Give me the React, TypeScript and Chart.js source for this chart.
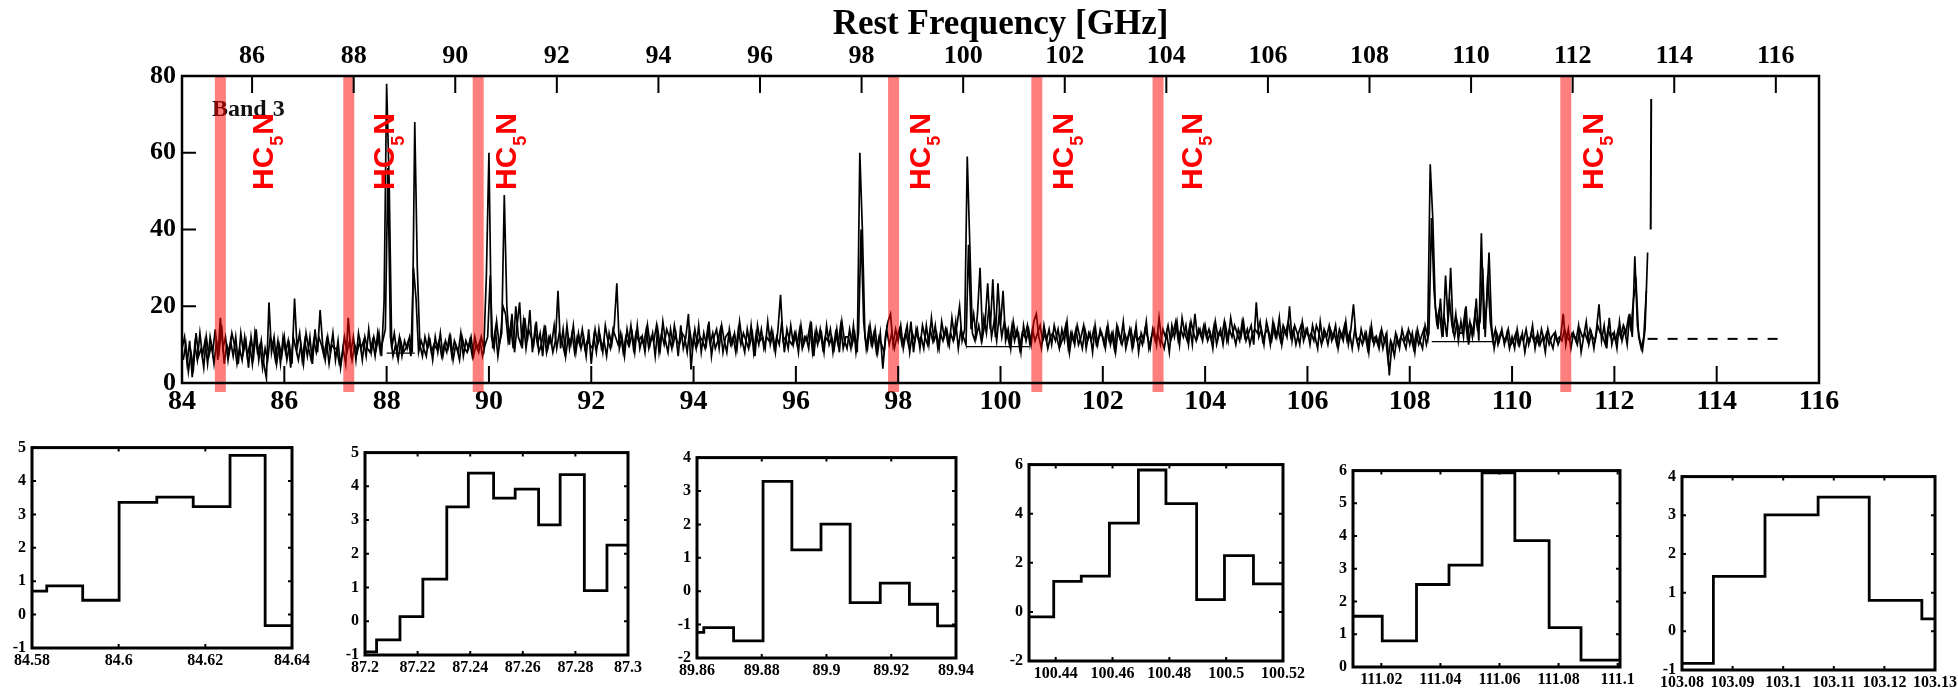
import React, { useEffect, useRef } from "react";
import { Chart, registerables } from "chart.js";
Chart.register(...registerables);

// ---------------- DATA ----------------
// main spectrum, first spectral trace: channel grid start / spacing (GHz)
const specStartGHz = 84.0;
const specStepGHz = 0.05;
// flux values per channel, 20 channels per GHz
const spectrumValues = [
  // 84
  9, 12, 5, 11, 1.5, 10, 6, 13, 7, 11, 5, 12, 8, 14, 6, 17, 9, 12, 6, 11,
  // 85
  7, 12, 5, 13, 8, 11, 4, 12, 7, 14, 6, 11, 5, 1.2, 21, 8, 12, 5, 10, 7,
  // 86
  12, 6, 10, 5, 22, 9, 13, 6, 11, 7, 12, 5, 14, 8, 19, 10, 6, 12, 8, 13,
  // 87
  6, 11, 4, 9, 5, 17, 8, 12, 6, 13, 9, 11, 7, 14, 8, 12, 9, 13, 7, 21,
  // 88
  78, 52, 9, 13, 8, 12, 7, 11, 9, 12, 8, 68, 30, 10, 7, 12, 9, 11, 6, 12,
  // 89
  8, 13, 7, 11, 9, 12, 6, 10, 8, 13, 7, 11, 9, 12, 7, 10, 8, 12, 9, 28,
  // 90
  60, 12, 9, 16, 10, 13, 49, 20, 10, 18, 8, 15, 21, 9, 17, 11, 19, 8, 14, 10,
  // 91
  13, 7, 15, 9, 12, 8, 11, 24, 9, 14, 7, 12, 10, 15, 8, 13, 9, 12, 7, 14,
  // 92
  5, 12, 8, 14, 9, 11, 7, 13, 10, 15, 26, 9, 12, 7, 14, 10, 13, 8, 15, 9,
  // 93
  12, 8, 15, 10, 13, 7, 14, 9, 16, 11, 8, 14, 10, 13, 7, 15, 9, 12, 18, 3.5,
  // 94
  12, 9, 15, 8, 13, 10, 16, 7, 12, 14, 9, 15, 11, 8, 14, 10, 13, 9, 16, 11,
  // 95
  8, 14, 10, 13, 7, 15, 11, 12, 9, 16, 10, 13, 8, 14, 23, 11, 12, 9, 15, 10,
  // 96
  13, 8, 15, 10, 12, 9, 16, 7, 14, 11, 13, 8, 15, 10, 12, 9, 14, 8, 16, 11,
  // 97
  9, 14, 10, 13, 8, 60, 40, 12, 9, 15, 10, 14, 8, 13, 3.7, 12, 16, 18, 10, 14,
  // 98
  11, 15, 9, 13, 10, 16, 8, 14, 11, 12, 9, 15, 10, 17, 11, 13, 9, 16, 12, 14,
  // 99
  10, 17, 12, 15, 20, 11, 14, 59, 36, 13, 11, 18, 30, 12, 16, 26, 14, 27, 12, 26,
  // 100
  15, 24, 11, 14, 9, 16, 12, 13, 8, 15, 11, 14, 10, 16, 18, 12, 9, 15, 11, 14,
  // 101
  10, 15, 12, 9, 14, 11, 16, 8, 13, 10, 15, 12, 9, 14, 11, 13, 8, 15, 10, 14,
  // 102
  12, 9, 15, 10, 13, 8, 14, 11, 16, 9, 12, 14, 10, 15, 8, 13, 11, 16, 9, 12,
  // 103
  14, 10, 17, 11, 9, 13, 8, 15, 12, 16, 10, 17, 13, 11, 15, 10, 18, 12, 14, 11,
  // 104
  15, 11, 13, 9, 16, 12, 14, 10, 15, 11, 17, 13, 10, 14, 12, 16, 11, 13, 15, 10,
  // 105
  21, 12, 14, 10, 16, 13, 11, 15, 12, 17, 10, 14, 12, 20, 11, 15, 13, 10, 16, 12,
  // 106
  14, 10, 15, 12, 9, 16, 11, 13, 10, 14, 12, 15, 9, 13, 11, 16, 10, 14, 20.5, 12,
  // 107
  9, 14, 11, 13, 8, 15, 10, 12, 9, 14, 11, 13, 2, 10, 7, 12, 9, 14, 11, 13,
  // 108
  10, 13, 8, 14, 11, 9, 15, 12, 57, 43, 20, 14, 22, 12, 28, 16, 30, 13, 18, 11,
  // 109
  16, 12, 20, 10, 15, 13, 22, 11, 39, 14, 20, 34, 15, 9, 13, 11, 14, 10, 13, 9,
  // 110
  12, 9, 14, 10, 13, 8, 12, 11, 15, 9, 13, 10, 12, 8, 14, 11, 9, 13, 10, 12,
  // 111
  18, 10, 14, 9, 13, 11, 15, 8, 12, 16, 10, 13, 9, 14, 20.5, 11, 15, 9, 17, 10,
  // 112
  13, 9, 16, 11, 14, 10, 18, 12, 33, 15, 11, 8.5, 14, 34,
];
// second, overlapping spectral trace (offset half a channel)
const spec2StartGHz = 84.025;
const spectrum2Values = [
  // 84
  6, 10, 3, 8, 4, 13, 7, 9, 4, 12, 7, 10, 5, 11, 8, 15, 5, 10, 8, 13,
  // 85
  10, 5, 9, 6, 12, 7, 10, 5, 13, 8, 10, 4, 9, 6, 12, 10, 6, 11, 5, 12,
  // 86
  8, 11, 4, 12, 9, 6, 10, 5, 13, 9, 6, 11, 8, 12, 10, 7, 11, 5, 10, 9,
  // 87
  9, 5, 7, 12, 8, 11, 6, 10, 8, 11, 6, 12, 9, 8, 11, 7, 13, 8, 11, 14,
  // 88
  56, 12, 7, 10, 6, 11, 8, 9, 11, 7, 30, 22, 8, 11, 9, 7, 12, 8, 10, 9,
  // 89
  11, 7, 10, 8, 12, 7, 11, 9, 6, 12, 9, 8, 11, 7, 12, 9, 11, 7, 10, 12,
  // 90
  28, 9, 14, 7, 12, 20, 18, 11, 15, 9, 20, 12, 10, 16, 9, 14, 12, 10, 16, 8,
  // 91
  10, 14, 8, 12, 10, 15, 9, 13, 11, 8, 15, 9, 13, 8, 12, 10, 14, 9, 11, 10,
  // 92
  9, 14, 10, 12, 8, 15, 11, 9, 14, 12, 10, 13, 8, 12, 10, 15, 9, 13, 11, 12,
  // 93
  10, 14, 9, 12, 11, 15, 8, 13, 10, 14, 12, 9, 15, 11, 10, 13, 12, 8, 14, 9,
  // 94
  14, 10, 12, 11, 9, 14, 10, 13, 9, 11, 14, 8, 12, 13, 10, 12, 8, 14, 10, 13,
  // 95
  11, 9, 15, 8, 13, 10, 14, 9, 12, 11, 14, 9, 12, 10, 16, 8, 14, 11, 10, 13,
  // 96
  10, 14, 9, 12, 11, 15, 8, 13, 10, 14, 9, 12, 11, 14, 8, 13, 10, 15, 9, 12,
  // 97
  12, 9, 15, 8, 13, 40, 16, 9, 14, 10, 13, 8, 12, 10, 8, 14, 10, 13, 9, 12,
  // 98
  14, 10, 12, 15, 8, 13, 11, 14, 9, 15, 12, 10, 14, 11, 15, 9, 13, 11, 14, 10,
  // 99
  13, 11, 16, 9, 14, 12, 10, 36, 14, 18, 12, 15, 11, 17, 13, 20, 12, 16, 11, 18,
  // 100
  12, 16, 13, 10, 15, 11, 14, 9, 13, 12, 15, 10, 14, 11, 13, 15, 11, 13, 9, 12,
  // 101
  13, 11, 14, 10, 12, 15, 9, 13, 11, 14, 10, 12, 15, 9, 13, 11, 14, 10, 12, 13,
  // 102
  10, 14, 11, 13, 9, 15, 12, 10, 13, 11, 14, 9, 13, 11, 12, 10, 14, 12, 9, 14,
  // 103
  11, 13, 10, 14, 12, 15, 11, 13, 16, 11, 14, 12, 15, 10, 16, 13, 11, 14, 12, 15,
  // 104
  12, 14, 11, 15, 10, 13, 12, 16, 11, 14, 12, 15, 13, 11, 16, 12, 14, 10, 13, 14,
  // 105
  13, 16, 11, 13, 14, 10, 16, 12, 14, 11, 15, 13, 16, 12, 14, 10, 13, 15, 11, 14,
  // 106
  12, 13, 11, 15, 13, 10, 14, 12, 15, 11, 13, 10, 14, 12, 15, 11, 13, 9, 14, 11,
  // 107
  12, 10, 13, 9, 14, 11, 12, 10, 13, 9, 12, 6, 11, 9, 13, 10, 12, 11, 9, 14,
  // 108
  12, 9, 13, 10, 12, 14, 10, 13, 43, 24, 16, 19, 13, 17, 12, 22, 15, 12, 16, 13,
  // 109
  13, 18, 12, 16, 12, 18, 14, 16, 30, 12, 28, 16, 11, 14, 10, 13, 12, 11, 14, 10,
  // 110
  11, 13, 10, 12, 11, 14, 10, 13, 11, 12, 10, 14, 11, 13, 10, 12, 13, 11, 12, 11,
  // 111
  14, 12, 11, 13, 12, 10, 14, 12, 13, 11, 14, 12, 11, 15, 13, 12, 10, 14, 12, 13,
  // 112
  11, 14, 12, 15, 13, 17, 14, 22, 26, 12, 9, 12, 24,
];
// isolated strong line at the band edge
const tailGHz = [112.71, 112.72];
const tailValues = [40, 74];
// flat fit-baseline segments under bright lines
const fitStartGHz = [88.0, 99.33, 108.43];
const fitEndGHz = [88.55, 100.56, 109.62];
const fitLevel = [7.8, 9.5, 10.8];
// continuum level beyond the observed range
const contGHz = [112.65, 115.35];
const contValues = [11.5, 11.5];
const contEndGHz = [116.05, 116.35];
const contEndValues = [11.8, 11.8];
// HC5N marker bands and labels
const bandGHz = [84.75, 87.26, 89.79, 97.91, 100.71, 103.08, 111.05];
const labelGHz = [85.78, 88.14, 90.53, 98.62, 101.42, 103.94, 111.78];
const labelStartValue = 50.3;

// zoom-in panels: bin edges, bin values, ranges and ticks
const p1Edges = [84.58, 84.5834, 84.5917, 84.6001, 84.6088, 84.6172, 84.6257, 84.6338, 84.64];
const p1Values = [0.7, 0.86, 0.43, 3.36, 3.52, 3.23, 4.77, -0.33];
const p1XTicks = [84.58, 84.6, 84.62, 84.64];
const p1YTicks = [-1, 0, 1, 2, 3, 4, 5];

const p2Edges = [87.2, 87.2044, 87.2133, 87.222, 87.2311, 87.2393, 87.2489, 87.2571, 87.266, 87.2742, 87.2834, 87.292, 87.3];
const p2Values = [-0.91, -0.55, 0.14, 1.25, 3.39, 4.39, 3.65, 3.92, 2.86, 4.35, 0.91, 2.26];
const p2XTicks = [87.2, 87.22, 87.24, 87.26, 87.28, 87.3];
const p2YTicks = [-1, 0, 1, 2, 3, 4, 5];

const p3Edges = [89.86, 89.8621, 89.8713, 89.8804, 89.8893, 89.8983, 89.9073, 89.9166, 89.9256, 89.9343, 89.94];
const p3Values = [-1.23, -1.09, -1.49, 3.29, 1.24, 2.01, -0.34, 0.24, -0.39, -1.04];
const p3XTicks = [89.86, 89.88, 89.9, 89.92, 89.94];
const p3YTicks = [-2, -1, 0, 1, 2, 3, 4];

const p4Edges = [100.4306, 100.4393, 100.449, 100.4589, 100.4691, 100.4788, 100.4896, 100.4994, 100.5096, 100.52];
const p4Values = [-0.2, 1.24, 1.46, 3.62, 5.78, 4.41, 0.5, 2.29, 1.14];
const p4XTicks = [100.44, 100.46, 100.48, 100.5, 100.52];
const p4YTicks = [-2, 0, 2, 4, 6];

const p5Edges = [111.0104, 111.0203, 111.0319, 111.0429, 111.0541, 111.0652, 111.0768, 111.0876, 111.1008];
const p5Values = [1.55, 0.8, 2.52, 3.11, 5.93, 3.86, 1.2, 0.21];
const p5XTicks = [111.02, 111.04, 111.06, 111.08, 111.1];
const p5YTicks = [0, 1, 2, 3, 4, 5, 6];

const p6Edges = [103.08, 103.0862, 103.0964, 103.1069, 103.117, 103.1274, 103.13];
const p6Values = [-0.83, 1.42, 3.01, 3.47, 0.8, 0.32];
const p6XTicks = [103.08, 103.09, 103.1, 103.11, 103.12, 103.13];
const p6YTicks = [-1, 0, 1, 2, 3, 4];

// ---------------- STYLE / LAYOUT ----------------
const SERIF = '"Liberation Serif", "Times New Roman", serif';
const SANS = '"Liberation Sans", Arial, sans-serif';

const panels = [
  { edges: p1Edges, values: p1Values, xt: p1XTicks, yt: p1YTicks, frame: [32, 442, 292, 648] },
  { edges: p2Edges, values: p2Values, xt: p2XTicks, yt: p2YTicks, frame: [365, 447, 628, 655] },
  { edges: p3Edges, values: p3Values, xt: p3XTicks, yt: p3YTicks, frame: [697, 452, 956, 658] },
  { edges: p4Edges, values: p4Values, xt: p4XTicks, yt: p4YTicks, frame: [1029, 459, 1283, 661] },
  { edges: p5Edges, values: p5Values, xt: p5XTicks, yt: p5YTicks, frame: [1353, 465, 1620, 667] },
  { edges: p6Edges, values: p6Values, xt: p6XTicks, yt: p6YTicks, frame: [1682, 471, 1935, 670] },
];

const mainDecor = {
  id: "mainDecor",
  beforeDatasetsDraw(chart: any) {
    const { ctx, chartArea: a } = chart;
    ctx.save();
    ctx.font = `bold 24px ${SERIF}`;
    ctx.fillStyle = "#111";
    ctx.textBaseline = "alphabetic";
    ctx.textAlign = "left";
    ctx.fillText("Band 3", a.left + 30, a.top + 40);
    ctx.restore();
  },
  afterDatasetsDraw(chart: any) {
    const { ctx, chartArea: a, scales } = chart;
    const x = scales.x, xt = scales.xTop, y = scales.y;
    ctx.save();
    // bands
    ctx.fillStyle = "rgba(255,0,0,0.5)";
    bandGHz.forEach((f) => {
      const p = x.getPixelForValue(f);
      ctx.fillRect(p - 5.5, a.top, 11, a.bottom - a.top + 9);
    });
    // frame
    ctx.strokeStyle = "#000";
    ctx.lineWidth = 2.5;
    ctx.strokeRect(a.left, a.top, a.right - a.left, a.bottom - a.top);
    // inward ticks
    ctx.lineWidth = 2;
    ctx.beginPath();
    x.ticks.forEach((t: any) => {
      const p = x.getPixelForValue(t.value);
      ctx.moveTo(p, a.bottom);
      ctx.lineTo(p, a.bottom - 17);
    });
    xt.ticks.forEach((t: any) => {
      const p = xt.getPixelForValue(t.value);
      ctx.moveTo(p, a.top);
      ctx.lineTo(p, a.top + 17);
    });
    y.ticks.forEach((t: any) => {
      const p = y.getPixelForValue(t.value);
      ctx.moveTo(a.left, p);
      ctx.lineTo(a.left + 14, p);
    });
    ctx.stroke();
    // HC5N labels
    labelGHz.forEach((f) => {
      const px = x.getPixelForValue(f);
      const py = y.getPixelForValue(labelStartValue);
      ctx.save();
      ctx.translate(px, py);
      ctx.rotate(-Math.PI / 2);
      ctx.fillStyle = "#ff0000";
      ctx.textBaseline = "alphabetic";
      ctx.textAlign = "left";
      ctx.font = `bold 30px ${SANS}`;
      ctx.fillText("HC", 0, 0);
      const w1 = ctx.measureText("HC").width;
      ctx.font = `bold 18px ${SANS}`;
      ctx.fillText("5", w1 + 1, 10);
      const w2 = ctx.measureText("5").width;
      ctx.font = `bold 30px ${SANS}`;
      ctx.fillText("N", w1 + w2 + 2, 0);
      ctx.restore();
    });
    ctx.restore();
  },
};

const panelDecor = {
  id: "panelDecor",
  afterDatasetsDraw(chart: any) {
    const { ctx, chartArea: a, scales } = chart;
    const x = scales.x, y = scales.y;
    ctx.save();
    ctx.strokeStyle = "#000";
    ctx.lineWidth = 3;
    ctx.strokeRect(a.left, a.top, a.right - a.left, a.bottom - a.top);
    ctx.lineWidth = 2;
    ctx.beginPath();
    x.ticks.forEach((t: any) => {
      const p = x.getPixelForValue(t.value);
      ctx.moveTo(p, a.bottom);
      ctx.lineTo(p, a.bottom - 4);
      ctx.moveTo(p, a.top);
      ctx.lineTo(p, a.top + 4);
    });
    y.ticks.forEach((t: any) => {
      const p = y.getPixelForValue(t.value);
      ctx.moveTo(a.left, p);
      ctx.lineTo(a.left + 4, p);
      ctx.moveTo(a.right, p);
      ctx.lineTo(a.right - 4, p);
    });
    ctx.stroke();
    ctx.restore();
  },
};

function SpectrumChart() {
  const ref = useRef<HTMLCanvasElement>(null);
  useEffect(() => {
    const spec = spectrumValues.map((v, i) => ({ x: +(specStartGHz + i * specStepGHz).toFixed(3), y: v }));
    const spec2 = spectrum2Values.map((v, i) => ({ x: +(spec2StartGHz + i * specStepGHz).toFixed(3), y: v }));
    const tail = tailGHz.map((f, i) => ({ x: f, y: tailValues[i] }));
    const fit: any[] = [];
    fitStartGHz.forEach((f, i) => {
      fit.push({ x: f, y: fitLevel[i] }, { x: fitEndGHz[i], y: fitLevel[i] }, { x: fitEndGHz[i] + 0.01, y: null });
    });
    const cont = contGHz.map((f, i) => ({ x: f, y: contValues[i] }));
    const contEnd = contEndGHz.map((f, i) => ({ x: f, y: contEndValues[i] }));
    const base = { pointRadius: 0, borderColor: "#000", tension: 0, fill: false, xAxisID: "x", yAxisID: "y" };
    const chart = new Chart(ref.current as HTMLCanvasElement, {
      type: "line",
      data: {
        datasets: [
          { ...base, data: spec, borderWidth: 1.7 },
          { ...base, data: spec2, borderWidth: 1.7 },
          { ...base, data: tail, borderWidth: 2 },
          { ...base, data: fit, borderWidth: 1.2, spanGaps: false },
          { ...base, data: cont, borderWidth: 2, borderDash: [10, 10] },
          { ...base, data: contEnd, borderWidth: 2 },
        ] as any,
      },
      options: {
        animation: false,
        responsive: false,
        events: [],
        layout: { padding: { left: 0, top: 0, right: 139, bottom: 0 } },
        plugins: { legend: { display: false }, tooltip: { enabled: false } },
        scales: {
          x: {
            type: "linear",
            position: "bottom",
            min: 84,
            max: 116,
            ticks: { stepSize: 2, autoSkip: false, maxRotation: 0, color: "#000", padding: 2, font: { family: SERIF, size: 28, weight: "bold" } },
            grid: { display: false, drawTicks: false },
            border: { display: false },
            afterFit: (s: any) => { s.height = 37; },
          },
          xTop: {
            type: "linear",
            position: "top",
            min: 84.62,
            max: 116.85,
            ticks: { stepSize: 2, includeBounds: false, autoSkip: false, maxRotation: 0, color: "#000", padding: 4, font: { family: SERIF, size: 26, weight: "bold" } },
            grid: { display: false, drawTicks: false },
            border: { display: false },
            title: { display: true, text: "Rest Frequency [GHz]", color: "#000", font: { family: SERIF, size: 35, weight: "bold" }, padding: { top: 4, bottom: 0 } },
            afterFit: (s: any) => { s.height = 76; },
          },
          y: {
            type: "linear",
            position: "left",
            min: 0,
            max: 80,
            ticks: { stepSize: 20, color: "#000", padding: 6, font: { family: SERIF, size: 26, weight: "bold" } },
            grid: { display: false, drawTicks: false },
            border: { display: false },
            afterFit: (s: any) => { s.width = 182; },
          },
        } as any,
      },
      plugins: [mainDecor],
    });
    return () => chart.destroy();
  }, []);
  return <canvas ref={ref} width={1958} height={420} style={{ position: "absolute", left: 0, top: 0, width: 1958, height: 420 }} />;
}

const ML = 50, MT = 10, MR = 30, MB = 30;

function ZoomPanel({ panel }: { panel: any }) {
  const ref = useRef<HTMLCanvasElement>(null);
  const [L, T, R, B] = panel.frame;
  const w = R - L + ML + MR;
  const h = B - T + MT + MB;
  useEffect(() => {
    const e: number[] = panel.edges;
    const v: number[] = panel.values;
    const pts = e.map((x, i) => ({ x, y: i < v.length ? v[i] : v[v.length - 1] }));
    const yt: number[] = panel.yt;
    const xt: number[] = panel.xt;
    const font = { family: SERIF, size: 16, weight: "bold" };
    const chart = new Chart(ref.current as HTMLCanvasElement, {
      type: "line",
      data: { datasets: [{ data: pts, stepped: true, borderColor: "#000", borderWidth: 2.8, pointRadius: 0, fill: false }] as any },
      options: {
        animation: false,
        responsive: false,
        events: [],
        layout: { padding: { left: 0, top: MT, right: MR, bottom: 0 } },
        plugins: { legend: { display: false }, tooltip: { enabled: false } },
        scales: {
          x: {
            type: "linear",
            min: e[0] < xt[0] ? e[0] : xt[0],
            max: Math.max(e[e.length - 1], xt[xt.length - 1]),
            afterBuildTicks: (s: any) => { s.ticks = xt.map((t) => ({ value: t })); },
            ticks: { autoSkip: false, maxRotation: 0, color: "#000", padding: 3, font, callback: (val: any) => String(val) },
            grid: { display: false, drawTicks: false },
            border: { display: false },
            afterFit: (s: any) => { s.height = MB; },
          },
          y: {
            type: "linear",
            min: yt[0],
            max: yt[yt.length - 1],
            afterBuildTicks: (s: any) => { s.ticks = yt.map((t) => ({ value: t })); },
            ticks: { autoSkip: false, color: "#000", padding: 6, font, callback: (val: any) => String(val) },
            grid: { display: false, drawTicks: false },
            border: { display: false },
            afterFit: (s: any) => { s.width = ML; },
          },
        } as any,
      },
      plugins: [panelDecor],
    });
    return () => chart.destroy();
  }, []);
  return <canvas ref={ref} width={w} height={h} style={{ position: "absolute", left: L - ML, top: T - MT, width: w, height: h }} />;
}

export default function App() {
  return (
    <div style={{ position: "absolute", left: 0, top: 0, width: 1958, height: 691, overflow: "hidden", background: "#fff" }}>
      <SpectrumChart />
      {panels.map((p, i) => (
        <ZoomPanel key={i} panel={p} />
      ))}
    </div>
  );
}
